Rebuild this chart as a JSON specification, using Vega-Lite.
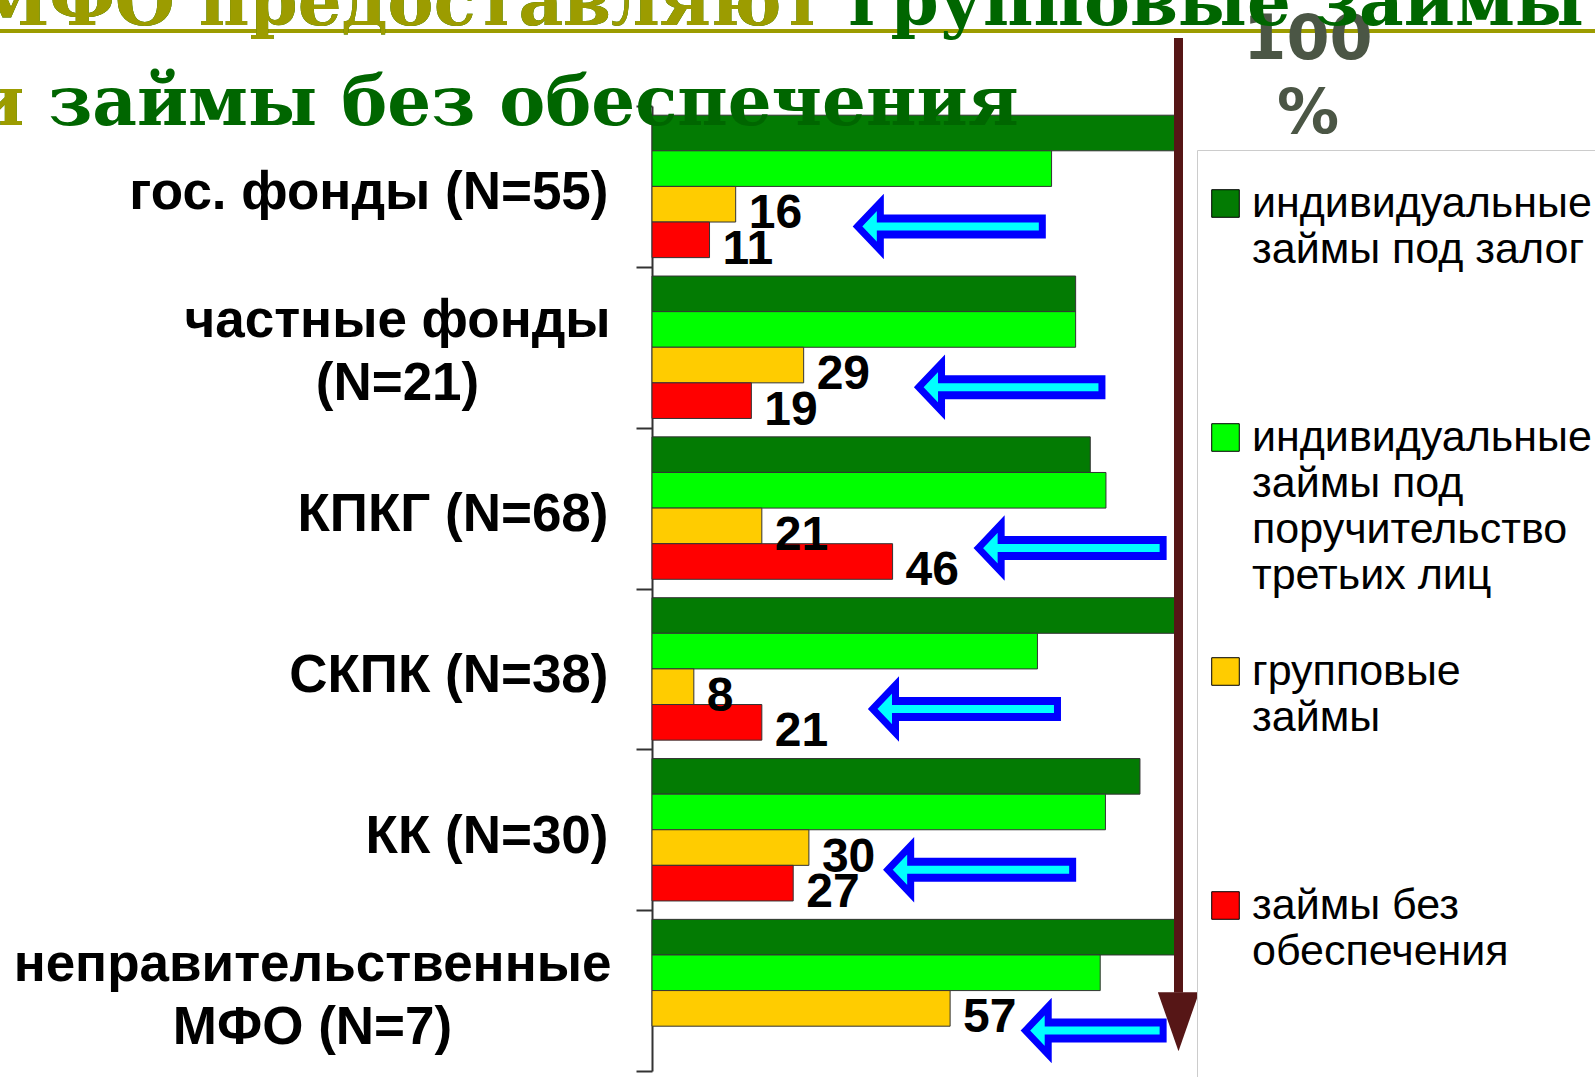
{
  "$schema": "https://vega.github.io/schema/vega-lite/v6.json",
  "width": 523,
  "height": 965,
  "autosize": {"type": "none"},
  "padding": {"left": 652, "top": 106, "right": 420, "bottom": 6},
  "background": "white",
  "title": {
    "text": ["МФО предоставляют групповые займы", "и займы без обеспечения"],
    "subtitle": ["МФО предоставляют", "и"],
    "anchor": "start", "frame": "group", "orient": "top", "offset": 0,
    "align": "left", "baseline": "top",
    "dx": -679, "dy": 130,
    "font": "DejaVu Serif", "fontWeight": "bold", "fontSize": 69, "lineHeight": 100, "color": "#006600",
    "subtitleFont": "DejaVu Serif", "subtitleFontWeight": "bold", "subtitleFontSize": 69, "subtitleLineHeight": 100,
    "subtitleColor": "#9c9c00", "subtitlePadding": -169
  },
  "config": {
    "view": {"stroke": null},
    "scale": {"bandPaddingInner": 0, "bandPaddingOuter": 0, "offsetBandPaddingInner": 0, "offsetBandPaddingOuter": 0.2584}
  },
  "datasets": {
    "bars": [
      {"group": "гос. фонды (N=55)", "series": "индивидуальные займы под залог", "pct": 100},
      {"group": "гос. фонды (N=55)", "series": "индивидуальные займы под поручительство третьих лиц", "pct": 76.4},
      {"group": "гос. фонды (N=55)", "series": "групповые займы", "pct": 16},
      {"group": "гос. фонды (N=55)", "series": "займы без обеспечения", "pct": 11},
      {"group": "частные фонды (N=21)", "series": "индивидуальные займы под залог", "pct": 81},
      {"group": "частные фонды (N=21)", "series": "индивидуальные займы под поручительство третьих лиц", "pct": 81},
      {"group": "частные фонды (N=21)", "series": "групповые займы", "pct": 29},
      {"group": "частные фонды (N=21)", "series": "займы без обеспечения", "pct": 19},
      {"group": "КПКГ (N=68)", "series": "индивидуальные займы под залог", "pct": 83.8},
      {"group": "КПКГ (N=68)", "series": "индивидуальные займы под поручительство третьих лиц", "pct": 86.8},
      {"group": "КПКГ (N=68)", "series": "групповые займы", "pct": 21},
      {"group": "КПКГ (N=68)", "series": "займы без обеспечения", "pct": 46},
      {"group": "СКПК (N=38)", "series": "индивидуальные займы под залог", "pct": 100},
      {"group": "СКПК (N=38)", "series": "индивидуальные займы под поручительство третьих лиц", "pct": 73.7},
      {"group": "СКПК (N=38)", "series": "групповые займы", "pct": 8},
      {"group": "СКПК (N=38)", "series": "займы без обеспечения", "pct": 21},
      {"group": "КК (N=30)", "series": "индивидуальные займы под залог", "pct": 93.3},
      {"group": "КК (N=30)", "series": "индивидуальные займы под поручительство третьих лиц", "pct": 86.7},
      {"group": "КК (N=30)", "series": "групповые займы", "pct": 30},
      {"group": "КК (N=30)", "series": "займы без обеспечения", "pct": 27},
      {"group": "неправительственные МФО (N=7)", "series": "индивидуальные займы под залог", "pct": 100},
      {"group": "неправительственные МФО (N=7)", "series": "индивидуальные займы под поручительство третьих лиц", "pct": 85.7},
      {"group": "неправительственные МФО (N=7)", "series": "групповые займы", "pct": 57}
    ],
    "arrows": [
      {"group": "гос. фонды (N=55)", "tip": 39.3, "tail": 75.3},
      {"group": "частные фонды (N=21)", "tip": 51.0, "tail": 86.7},
      {"group": "КПКГ (N=68)", "tip": 62.4, "tail": 98.4},
      {"group": "СКПК (N=38)", "tip": 42.2, "tail": 78.2},
      {"group": "КК (N=30)", "tip": 45.1, "tail": 81.1},
      {"group": "неправительственные МФО (N=7)", "tip": 71.4, "tail": 98.4}
    ]
  },
  "layer": [
    {
      "data": {"values": [{}]},
      "mark": {"type": "rule", "color": "#9c9c00", "strokeWidth": 4, "yOffset": -155.4},
      "encoding": {
        "x": {"datum": -125, "type": "quantitative", "scale": {"domain": [0, 100], "nice": false}, "axis": null},
        "x2": {"datum": 181},
        "y": {"datum": "гос. фонды (N=55)", "type": "nominal", "title": null, "scale": {"domain": ["гос. фонды (N=55)", "частные фонды (N=21)", "КПКГ (N=68)", "СКПК (N=38)", "КК (N=30)", "неправительственные МФО (N=7)"]}}
      }
    },
    {
      "data": {"name": "bars"},
      "mark": {"type": "bar", "stroke": "#333333", "strokeWidth": 1},
      "encoding": {
        "y": {
          "field": "group", "type": "nominal", "title": null,
          "scale": {"domain": ["гос. фонды (N=55)", "частные фонды (N=21)", "КПКГ (N=68)", "СКПК (N=38)", "КК (N=30)", "неправительственные МФО (N=7)"], "paddingInner": 0, "paddingOuter": 0},
          "axis": {
            "domainColor": "#333333", "domainWidth": 2, "tickColor": "#333333", "tickWidth": 2, "tickSize": 16,
            "tickBand": "extent", "grid": false,
            "labelFont": "Liberation Sans", "labelFontWeight": "bold", "labelFontSize": 53, "labelColor": "#000000",
            "labelLimit": 0, "labelLineHeight": 63,
            "labelExpr": "datum.value == 'частные фонды (N=21)' ? ['частные фонды', '(N=21)'] : datum.value == 'неправительственные МФО (N=7)' ? ['неправительственные', 'МФО  (N=7)'] : datum.value",
            "labelAlign": {"condition": {"test": "datum.value == 'частные фонды (N=21)' || datum.value == 'неправительственные МФО (N=7)'", "value": "center"}, "value": "right"},
            "labelPadding": {"condition": [{"test": "datum.value == 'частные фонды (N=21)'", "value": 239}, {"test": "datum.value == 'неправительственные МФО (N=7)'", "value": 324}], "value": 28},
            "labelOffset": {"condition": {"test": "datum.value == 'частные фонды (N=21)' || datum.value == 'неправительственные МФО (N=7)'", "value": -26.5}, "value": 6.5}
          }
        },
        "yOffset": {"field": "series", "type": "nominal", "scale": {"domain": ["индивидуальные займы под залог", "индивидуальные займы под поручительство третьих лиц", "групповые займы", "займы без обеспечения"], "paddingInner": 0, "paddingOuter": 0.2584}},
        "x": {"field": "pct", "type": "quantitative", "scale": {"domain": [0, 100], "nice": false}, "axis": null},
        "color": {
          "field": "series", "type": "nominal",
          "scale": {"domain": ["индивидуальные займы под залог", "индивидуальные займы под поручительство третьих лиц", "групповые займы", "займы без обеспечения"], "range": ["#037b03", "#00ff00", "#ffcc00", "#ff0000"]},
          "legend": {
            "orient": "none", "legendX": 545, "legendY": 44,
            "title": " ", "titleFontSize": 10, "titlePadding": 15,
            "padding": 7, "strokeColor": "#cccccc", "fillColor": "#ffffff",
            "symbolType": "square", "symbolSize": 760, "symbolStrokeColor": "#000000", "symbolStrokeWidth": 1, "symbolOpacity": 1,
            "labelFont": "Liberation Sans", "labelFontSize": 43, "labelColor": "#000000", "labelLimit": 0, "labelOffset": 5,
            "labelBaseline": "top", "rowPadding": 6, "gridAlign": "all",
            "labelExpr": "datum.label == 'индивидуальные займы под залог' ? ['индивидуальные', 'займы под залог'] : datum.label == 'индивидуальные займы под поручительство третьих лиц' ? ['индивидуальные', 'займы под', 'поручительство', 'третьих лиц'] : datum.label == 'групповые займы' ? ['групповые', 'займы'] : ['займы без', 'обеспечения', '', '', '']",
            "encode": {"labels": {"update": {"dy": {"value": -21}, "lineHeight": {"value": 46}}}}
          }
        }
      }
    },
    {
      "data": {"name": "bars"},
      "transform": [{"filter": {"field": "series", "oneOf": ["групповые займы", "займы без обеспечения"]}}],
      "mark": {"type": "text", "align": "left", "baseline": "middle", "dx": 13, "dy": 10, "font": "Liberation Sans", "fontWeight": "bold", "fontSize": 48, "color": "#000000"},
      "encoding": {
        "y": {"field": "group", "type": "nominal", "title": null, "scale": {"domain": ["гос. фонды (N=55)", "частные фонды (N=21)", "КПКГ (N=68)", "СКПК (N=38)", "КК (N=30)", "неправительственные МФО (N=7)"]}},
        "yOffset": {"field": "series", "type": "nominal", "scale": {"domain": ["индивидуальные займы под залог", "индивидуальные займы под поручительство третьих лиц", "групповые займы", "займы без обеспечения"], "paddingInner": 0, "paddingOuter": 0.2584}},
        "x": {"field": "pct", "type": "quantitative", "scale": {"domain": [0, 100], "nice": false}, "axis": null},
        "text": {"field": "pct", "type": "quantitative", "format": ".0f"}
      }
    },
    {
      "data": {"name": "arrows"},
      "mark": {"type": "rule", "color": "#0000ff", "strokeWidth": 24, "strokeCap": "butt", "xOffset": 18, "yOffset": 40},
      "encoding": {
        "y": {"field": "group", "type": "nominal", "title": null, "scale": {"domain": ["гос. фонды (N=55)", "частные фонды (N=21)", "КПКГ (N=68)", "СКПК (N=38)", "КК (N=30)", "неправительственные МФО (N=7)"]}},
        "x": {"field": "tip", "type": "quantitative", "scale": {"domain": [0, 100], "nice": false}, "axis": null},
        "x2": {"field": "tail"}
      }
    },
    {
      "data": {"name": "arrows"},
      "mark": {"type": "point", "shape": "M 0 0 L 0.95 -1 L 0.95 1 Z", "size": 2304, "filled": true, "fill": "#00ffff", "stroke": "#0000ff", "strokeWidth": 7, "opacity": 1, "yOffset": 40},
      "encoding": {
        "y": {"field": "group", "type": "nominal", "title": null, "scale": {"domain": ["гос. фонды (N=55)", "частные фонды (N=21)", "КПКГ (N=68)", "СКПК (N=38)", "КК (N=30)", "неправительственные МФО (N=7)"]}},
        "x": {"field": "tip", "type": "quantitative", "scale": {"domain": [0, 100], "nice": false}, "axis": null}
      }
    },
    {
      "data": {"name": "arrows"},
      "mark": {"type": "rule", "color": "#00ffff", "strokeWidth": 8, "strokeCap": "butt", "xOffset": 9, "x2Offset": -7, "yOffset": 40},
      "encoding": {
        "y": {"field": "group", "type": "nominal", "title": null, "scale": {"domain": ["гос. фонды (N=55)", "частные фонды (N=21)", "КПКГ (N=68)", "СКПК (N=38)", "КК (N=30)", "неправительственные МФО (N=7)"]}},
        "x": {"field": "tip", "type": "quantitative", "scale": {"domain": [0, 100], "nice": false}, "axis": null},
        "x2": {"field": "tail"}
      }
    },
    {
      "data": {"values": [{}]},
      "mark": {"type": "rule", "color": "#561616", "strokeWidth": 9, "strokeCap": "butt", "xOffset": 3.5, "yOffset": -148.4, "y2Offset": 2},
      "encoding": {
        "x": {"datum": 100, "type": "quantitative", "scale": {"domain": [0, 100], "nice": false}, "axis": null},
        "y": {"datum": "гос. фонды (N=55)", "type": "nominal", "title": null, "scale": {"domain": ["гос. фонды (N=55)", "частные фонды (N=21)", "КПКГ (N=68)", "СКПК (N=38)", "КК (N=30)", "неправительственные МФО (N=7)"]}},
        "y2": {"datum": "неправительственные МФО (N=7)"}
      }
    },
    {
      "data": {"values": [{}]},
      "mark": {"type": "point", "shape": "M -0.7 0 L 0.7 0 L 0 2 Z", "size": 3481, "filled": true, "fill": "#561616", "strokeWidth": 0, "opacity": 1, "xOffset": 3.5, "yOffset": 1.6},
      "encoding": {
        "x": {"datum": 100, "type": "quantitative", "scale": {"domain": [0, 100], "nice": false}, "axis": null},
        "y": {"datum": "неправительственные МФО (N=7)", "type": "nominal", "title": null, "scale": {"domain": ["гос. фонды (N=55)", "частные фонды (N=21)", "КПКГ (N=68)", "СКПК (N=38)", "КК (N=30)", "неправительственные МФО (N=7)"]}}
      }
    },
    {
      "data": {"values": [{}]},
      "mark": {"type": "text", "text": ["100", "%"], "align": "center", "baseline": "middle", "lineHeight": 74, "dx": 133, "dy": -146, "font": "DejaVu Sans", "fontWeight": "bold", "fontSize": 62, "color": "#4b5645"},
      "encoding": {
        "x": {"datum": 100, "type": "quantitative", "scale": {"domain": [0, 100], "nice": false}, "axis": null},
        "y": {"datum": "гос. фонды (N=55)", "type": "nominal", "title": null, "scale": {"domain": ["гос. фонды (N=55)", "частные фонды (N=21)", "КПКГ (N=68)", "СКПК (N=38)", "КК (N=30)", "неправительственные МФО (N=7)"]}}
      }
    }
  ]
}
